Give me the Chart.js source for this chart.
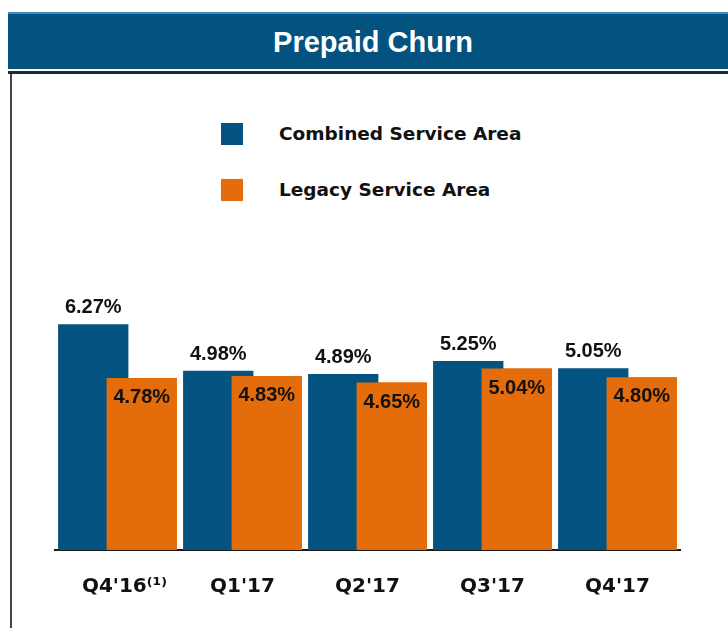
<!DOCTYPE html>
<html>
<head>
<meta charset="utf-8">
<script src="https://cdn.jsdelivr.net/npm/chart.js@4/dist/chart.umd.min.js"></script>
<style>
  body { margin: 0; width: 728px; height: 628px; background: #fff; position: relative; overflow: hidden; }
  #title {
    position: absolute; left: 8px; top: 12px; width: 720px; height: 57px;
    background: #03527f; border-top: 2px solid #3d8cc4;
    color: #fff; font: bold 29px "Liberation Sans", Arial, sans-serif;
    line-height: 57px; text-align: center; padding-left: 10px; box-sizing: border-box;
  }
  #titleEdge { position: absolute; left: 8px; top: 71px; width: 720px; height: 3px; background: #1b2a33; }
  #leftEdge { position: absolute; left: 10px; top: 74px; width: 2px; height: 554px; background: #444; }
  #chart { position: absolute; left: 0; top: 0; }
  .key { position: absolute; left: 221px; width: 22px; height: 22px; }
  .keyText { position: absolute; left: 279px; font: bold 18.5px "DejaVu Sans", Verdana, sans-serif; color: #111; line-height: 22px; }
</style>
</head>
<body>
<div id="title">Prepaid Churn</div>
<div id="titleEdge"></div>
<div id="leftEdge"></div>
<div id="legend"></div>
<canvas id="chart" width="728" height="628"></canvas>
<script>
const quarters = ["Q4'16⁽¹⁾", "Q1'17", "Q2'17", "Q3'17", "Q4'17"];
const combined = [6.27, 4.98, 4.89, 5.25, 5.05];
const legacy = [4.78, 4.83, 4.65, 5.04, 4.80];
const seriesNames = ['Combined Service Area', 'Legacy Service Area'];
const seriesColors = ['#03527f', '#e46c0a'];

// legend, stacked vertically above the plot
const legend = document.getElementById('legend');
seriesNames.forEach((name, i) => {
  const top = 123 + i * 56;
  const box = document.createElement('div');
  box.className = 'key';
  box.style.top = top + 'px';
  box.style.background = seriesColors[i];
  legend.appendChild(box);
  const txt = document.createElement('div');
  txt.className = 'keyText';
  txt.style.top = top + 'px';
  txt.textContent = name;
  legend.appendChild(txt);
});

const barLabels = {
  id: 'barLabels',
  afterDatasetsDraw(chart) {
    // orange bars sit over the blue ones, so paint them again on top
    chart.getDatasetMeta(1).controller.draw();
    const ctx = chart.ctx;
    ctx.save();
    ctx.font = 'bold 20px "Liberation Sans", Arial, sans-serif';
    ctx.fillStyle = '#111';
    ctx.textAlign = 'center';
    ctx.textBaseline = 'alphabetic';
    chart.data.datasets.forEach((ds, i) => {
      chart.getDatasetMeta(i).data.forEach((bar, j) => {
        const y = i === 0 ? bar.y - 11 : bar.y + 25;
        ctx.fillText(ds.data[j].toFixed(2) + '%', bar.x, y);
      });
    });
    ctx.restore();
  }
};

new Chart(document.getElementById('chart'), {
  type: 'bar',
  data: {
    labels: quarters,
    datasets: [
      { label: seriesNames[0], data: combined, backgroundColor: seriesColors[0] },
      { label: seriesNames[1], data: legacy, backgroundColor: seriesColors[1] }
    ]
  },
  options: {
    responsive: false,
    animation: false,
    devicePixelRatio: 1,
    categoryPercentage: 0.776,
    barPercentage: 1.45,
    layout: { padding: { top: 298, left: 55, right: 48, bottom: 4 } },
    scales: {
      x: {
        grid: { display: false, drawTicks: false },
        border: { display: true, color: '#1a1a1a', width: 2 },
        ticks: {
          color: '#111',
          padding: 25,
          font: { family: '"DejaVu Sans", Verdana, sans-serif', size: 20, weight: 'bold' },
          // keep "Q4'16" itself centred, with the footnote mark hanging to the right
          callback(value) {
            const label = this.getLabelForValue(value);
            return label.includes('⁽') ? '  ' + label : label;
          }
        }
      },
      y: { display: false, min: 0, max: 7 }
    },
    plugins: {
      legend: { display: false },
      tooltip: { enabled: false }
    }
  },
  plugins: [barLabels]
});
</script>
</body>
</html>
